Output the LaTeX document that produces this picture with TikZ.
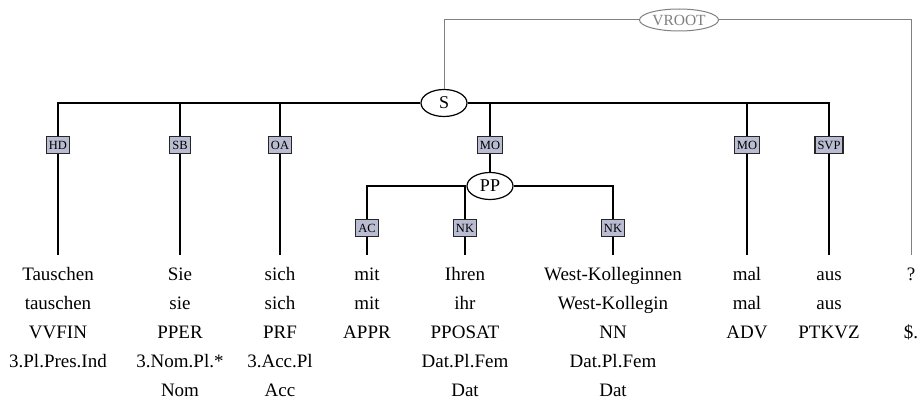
\documentclass[tikz,border=0pt]{standalone}
\usepackage{fontspec}
\setmainfont{Liberation Serif}
\usetikzlibrary{shapes.geometric}
\definecolor{edgefill}{RGB}{186,188,210}
\definecolor{rootgray}{RGB}{128,128,128}
% fixed height for the first line of every terminal, so all rows line up
\newcommand\wordstrut{\rule{0pt}{13.5pt}}
\tikzset{
  cat/.style={ellipse, draw, line width=1.2pt, fill=white, inner sep=0pt,
    minimum width=46pt, minimum height=27pt, font=\fontsize{18}{20}\selectfont},
  rootcat/.style={ellipse, draw=rootgray, line width=1pt, fill=white, inner sep=0pt,
    minimum width=79pt, minimum height=22pt, text=rootgray, font=\fontsize{15.5}{17}\selectfont},
  edgelab/.style={rectangle, draw=black!85, line width=1.2pt, fill=edgefill, inner xsep=2.5pt,
    inner ysep=0pt, minimum height=17pt, font=\fontsize{12.5}{14}\selectfont},
  word/.style={anchor=north, align=center, inner xsep=0pt, inner ysep=11.5pt,
    font=\fontsize{19}{29}\selectfont},
  arc/.style={line width=1.2pt},
  rootarc/.style={line width=1pt, draw=rootgray},
}
\begin{document}
\begin{tikzpicture}[x=1pt, y=-1pt]
\useasboundingbox (0,0) rectangle (918,401);

% phrase nodes
\node[rootcat] (vroot) at (679,20) {VROOT};
\node[cat] (s) at (444,103) {S};
\node[cat] (pp) at (490,186) {PP};

% edge labels below S
\node[edgelab] (hd)  at (58,145)  {HD};
\node[edgelab] (sb)  at (180,145) {SB};
\node[edgelab] (oa)  at (280,145) {OA};
\node[edgelab] (mo1) at (490,145) {MO};
\node[edgelab] (mo2) at (747,145) {MO};
\node[edgelab] (svp) at (829,145) {SVP};

% edge labels below PP
\node[edgelab] (ac)  at (367,228) {AC};
\node[edgelab] (nk1) at (465,228) {NK};
\node[edgelab] (nk2) at (613,228) {NK};

% terminals: word, lemma, tag, morphology, case
\node[word] (w1) at (58,255)  {\wordstrut Tauschen\\tauschen\\VVFIN\\3.Pl.Pres.Ind};
\node[word] (w2) at (180,255) {\wordstrut Sie\\sie\\PPER\\3.Nom.Pl.*\\Nom};
\node[word] (w3) at (280,255) {\wordstrut sich\\sich\\PRF\\3.Acc.Pl\\Acc};
\node[word] (w4) at (367,255) {\wordstrut mit\\mit\\APPR};
\node[word] (w5) at (465,255) {\wordstrut Ihren\\ihr\\PPOSAT\\Dat.Pl.Fem\\Dat};
\node[word] (w6) at (613,255) {\wordstrut West-Kolleginnen\\West-Kollegin\\NN\\Dat.Pl.Fem\\Dat};
\node[word] (w7) at (747,255) {\wordstrut mal\\mal\\ADV};
\node[word] (w8) at (829,255) {\wordstrut aus\\aus\\PTKVZ};
\node[word] (w9) at (911,255) {\wordstrut ?\\\\\$.};

% virtual root attachments
\draw[rootarc] (s) |- (vroot);
\draw[rootarc] (vroot) -| (w9);

% S daughters
\foreach \lab/\w in {hd/w1, sb/w2, oa/w3, mo2/w7, svp/w8} {
  \draw[arc] (s) -| (\lab);
  \draw[arc] (\lab) -- (\w);
}
\draw[arc] (s) -| (mo1);
\draw[arc] (mo1) -- (pp);

% PP daughters
\foreach \lab/\w in {ac/w4, nk1/w5, nk2/w6} {
  \draw[arc] (pp) -| (\lab);
  \draw[arc] (\lab) -- (\w);
}
\end{tikzpicture}
\end{document}
